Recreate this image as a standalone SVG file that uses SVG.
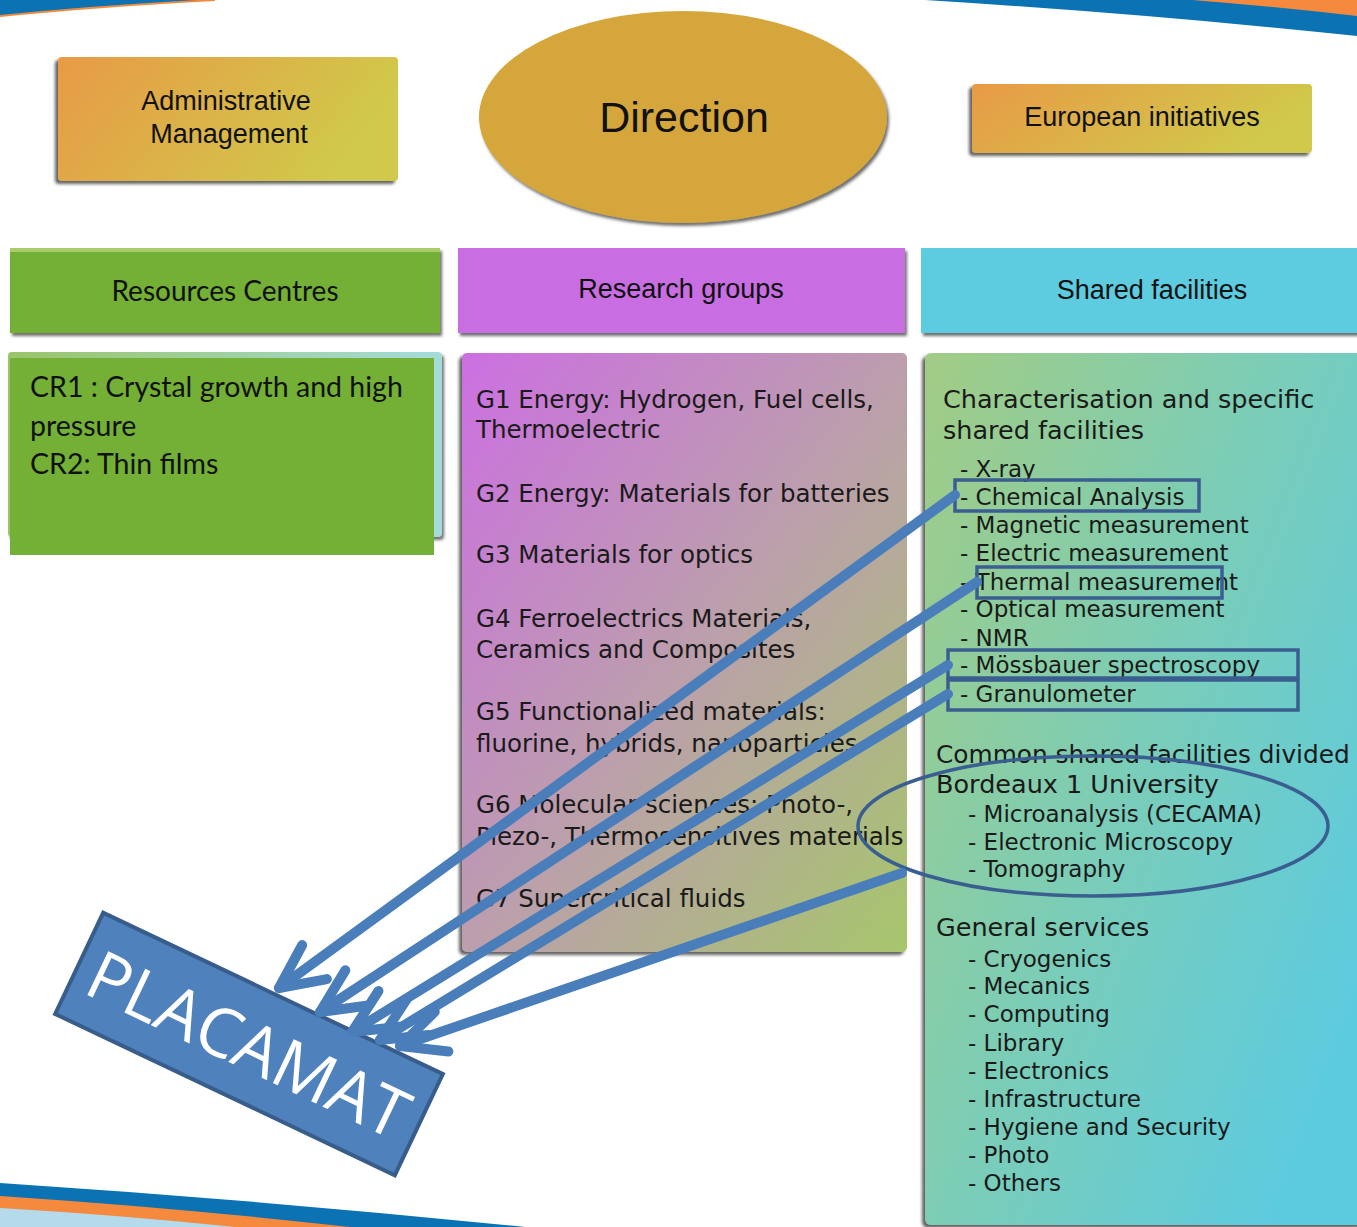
<svg xmlns="http://www.w3.org/2000/svg" width="1357" height="1227" viewBox="0 0 1357 1227">
<defs>
<style>
.arial{font-family:"Liberation Sans",Arial,sans-serif;fill:#111}
.cal{font-family:Lato,"Liberation Sans",sans-serif;fill:#111}
.goth{font-family:"DejaVu Sans","Liberation Sans",sans-serif;fill:#1a1a1a}
.mid{font-size:24.5px}
.rt{font-size:23px}
.hd{font-size:25.5px}
.conn{stroke:#4A7EBB;stroke-width:10;fill:none;stroke-linecap:round;marker-end:url(#vhead)}
.hl{fill:none;stroke:#3B5E91;stroke-width:3.5}
</style>
<linearGradient id="oy" x1="0" y1="0" x2="1" y2="0.3">
<stop offset="0" stop-color="#E89A45"/><stop offset="1" stop-color="#D0C94B"/>
</linearGradient>
<linearGradient id="po" x1="0" y1="0" x2="1" y2="1">
<stop offset="0" stop-color="#CC6FE2"/><stop offset="0.5" stop-color="#BC9EAD"/><stop offset="1" stop-color="#A6C66B"/>
</linearGradient>
<linearGradient id="gc" x1="0" y1="0" x2="1" y2="0.75">
<stop offset="0" stop-color="#A2CC84"/><stop offset="0.5" stop-color="#7CCDB6"/><stop offset="1" stop-color="#5CCBE0"/>
</linearGradient>
<linearGradient id="gback" x1="0" y1="0" x2="1" y2="0">
<stop offset="0" stop-color="#9AC46A"/><stop offset="1" stop-color="#A4DCDA"/>
</linearGradient>
<filter id="sh" x="-10%" y="-10%" width="125%" height="130%">
<feDropShadow dx="-3" dy="3" stdDeviation="1.5" flood-color="#222" flood-opacity="0.7"/>
</filter>
<filter id="sh2" x="-10%" y="-10%" width="125%" height="130%">
<feDropShadow dx="2" dy="3" stdDeviation="1.5" flood-color="#333" flood-opacity="0.7"/>
</filter>
<marker id="vhead" markerUnits="userSpaceOnUse" orient="auto" refX="0" refY="0" markerWidth="120" markerHeight="120" viewBox="-60 -60 120 120" overflow="visible">
<path d="M-44,-21 L0,0 L-44,21" fill="none" stroke="#4A7EBB" stroke-width="10" stroke-linecap="round" stroke-linejoin="round"/>
</marker>
</defs>

<rect width="1357" height="1227" fill="#ffffff"/>

<g id="decor">
<path d="M0,0 L215,0 Q100,6 0,16 Z" fill="#0B72B4"/>
<path d="M0,16 Q100,6 215,0" fill="none" stroke="#F08A3E" stroke-width="2"/>
<path d="M925,0 L1357,0 L1357,36 Q1150,14 925,0 Z" fill="#0B72B4"/>
<path d="M1192,0 L1357,0 L1357,16 Q1280,7 1192,0 Z" fill="#F58A3E"/>
<path d="M0,1183 Q260,1200 525,1227 L0,1227 Z" fill="#0B72B4"/>
<path d="M0,1196 Q180,1208 350,1227 L0,1227 Z" fill="#F58A3E"/>
<path d="M0,1208 Q120,1215 235,1227 L0,1227 Z" fill="#B5DAEC"/>
</g>

<g id="admin">
<rect x="58" y="57" width="340" height="124" rx="4" fill="url(#oy)" filter="url(#sh)"/>
<text class="arial" x="226" y="110" font-size="27" text-anchor="middle">Administrative</text>
<text class="arial" x="229" y="143" font-size="27" text-anchor="middle">Management</text>
</g>

<g id="direction">
<ellipse cx="683" cy="117" rx="204" ry="106" fill="#D4A63A" filter="url(#sh2)"/>
<text class="arial" x="684" y="132" font-size="43" text-anchor="middle">Direction</text>
</g>

<g id="european">
<rect x="972" y="84" width="340" height="69" rx="4" fill="url(#oy)" filter="url(#sh)"/>
<text class="arial" x="1142" y="126" font-size="27" text-anchor="middle">European initiatives</text>
</g>

<g id="resources-header">
<rect x="10" y="248" width="430" height="85" fill="#73B035" filter="url(#sh2)"/>
<rect x="10" y="248" width="430" height="4" fill="#A9CB6C"/>
<text class="cal" x="225" y="301" font-size="28" text-anchor="middle">Resources Centres</text>
</g>

<g id="research-header">
<rect x="458" y="248" width="447" height="85" fill="#C86EE2" filter="url(#sh2)"/>
<text class="arial" x="681" y="298" font-size="27" text-anchor="middle">Research groups</text>
</g>

<g id="shared-header">
<rect x="921" y="248" width="440" height="85" fill="#5DCBE0" filter="url(#sh2)"/>
<text class="arial" x="1152" y="299" font-size="27" text-anchor="middle">Shared facilities</text>
</g>

<g id="resources-content">
<rect x="8" y="352" width="434" height="185" rx="4" fill="url(#gback)" filter="url(#sh2)"/>
<rect x="10" y="358" width="424" height="197" fill="#73B035"/>
<text class="cal" font-size="28.5">
<tspan x="30" y="397">CR1 : Crystal growth and high</tspan>
<tspan x="30" y="436">pressure</tspan>
<tspan x="30" y="474">CR2: Thin films</tspan>
</text>
</g>

<g id="research-content">
<rect x="462" y="353" width="445" height="599" rx="5" fill="url(#po)" filter="url(#sh)"/>
<text class="goth mid">
<tspan x="476" y="408">G1 Energy: Hydrogen, Fuel cells,</tspan>
<tspan x="476" y="438">Thermoelectric</tspan>
<tspan x="476" y="502">G2 Energy: Materials for batteries</tspan>
<tspan x="476" y="563">G3 Materials for optics</tspan>
<tspan x="476" y="627">G4 Ferroelectrics Materials,</tspan>
<tspan x="476" y="658">Ceramics and Composites</tspan>
<tspan x="476" y="720">G5 Functionalized materials:</tspan>
<tspan x="476" y="752">fluorine, hybrids, nanoparticles</tspan>
<tspan x="476" y="813">G6 Molecular sciences: Photo-,</tspan>
<tspan x="476" y="845">Piezo-, Thermosensitives materials</tspan>
<tspan x="476" y="907">G7 Supercritical fluids</tspan>
</text>
</g>

<g id="shared-content">
<rect x="925" y="353" width="440" height="872" rx="6" fill="url(#gc)" filter="url(#sh)"/>
<text class="goth hd">
<tspan x="943" y="408">Characterisation and specific</tspan>
<tspan x="943" y="439">shared facilities</tspan>
</text>
<text class="goth rt">
<tspan x="960" y="477">- X-ray</tspan>
<tspan x="960" y="505">- Chemical Analysis</tspan>
<tspan x="960" y="533">- Magnetic measurement</tspan>
<tspan x="960" y="561">- Electric measurement</tspan>
<tspan x="960" y="590">- Thermal measurement</tspan>
<tspan x="960" y="617">- Optical measurement</tspan>
<tspan x="960" y="646">- NMR</tspan>
<tspan x="960" y="673">- Mössbauer spectroscopy</tspan>
<tspan x="960" y="702">- Granulometer</tspan>
</text>
<text class="goth" font-size="24.8">
<tspan x="936" y="763">Common shared facilities divided</tspan>
</text>
<text class="goth hd">
<tspan x="936" y="793">Bordeaux 1 University</tspan>
</text>
<text class="goth rt">
<tspan x="968" y="822">- Microanalysis (CECAMA)</tspan>
<tspan x="968" y="850">- Electronic Microscopy</tspan>
<tspan x="968" y="877">- Tomography</tspan>
</text>
<text class="goth hd">
<tspan x="936" y="936">General services</tspan>
</text>
<text class="goth rt">
<tspan x="968" y="967">- Cryogenics</tspan>
<tspan x="968" y="994">- Mecanics</tspan>
<tspan x="968" y="1022">- Computing</tspan>
<tspan x="968" y="1051">- Library</tspan>
<tspan x="968" y="1079">- Electronics</tspan>
<tspan x="968" y="1107">- Infrastructure</tspan>
<tspan x="968" y="1135">- Hygiene and Security</tspan>
<tspan x="968" y="1163">- Photo</tspan>
<tspan x="968" y="1191">- Others</tspan>
</text>
</g>

<g id="highlights">
<rect class="hl" x="955" y="480" width="244" height="31"/>
<rect class="hl" x="977" y="567" width="245" height="31"/>
<rect class="hl" x="948" y="650" width="350" height="28"/>
<rect class="hl" x="948" y="680" width="350" height="30"/>
<ellipse class="hl" cx="1093" cy="826" rx="235" ry="70"/>
</g>

<g id="placamat">
<g transform="translate(249,1044) rotate(25.4)">
<rect x="-188" y="-56" width="376" height="112" fill="#4F81BD" stroke="#385D8A" stroke-width="4"/>
<text x="0" y="25" font-family="'Open Sans','Liberation Sans',sans-serif" font-size="68" fill="#ffffff" text-anchor="middle">PLACAMAT</text>
</g>
</g>

<g id="connectors">
<line class="conn" x1="955" y1="495" x2="279" y2="988"/>
<line class="conn" x1="977" y1="582" x2="320" y2="1012"/>
<line class="conn" x1="948" y1="665" x2="352" y2="1032"/>
<line class="conn" x1="948" y1="694" x2="380" y2="1040"/>
<line class="conn" x1="902" y1="873" x2="400" y2="1046"/>
</g>
</svg>
